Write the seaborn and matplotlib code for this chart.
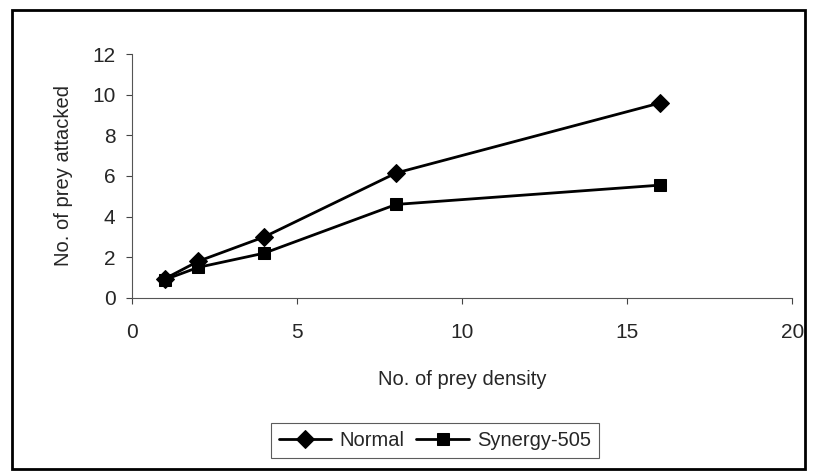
import matplotlib
matplotlib.use('Agg')
import matplotlib.pyplot as plt
from matplotlib.patches import Rectangle
import seaborn as sns

# values
density = [1, 2, 4, 8, 16]
normal = [0.95, 1.8, 3.0, 6.15, 9.6]
synergy = [0.9, 1.5, 2.2, 4.6, 5.55]

sns.set_theme(style='white')
plt.rcParams['font.family'] = ['Liberation Sans', 'DejaVu Sans']

fig = plt.figure(figsize=(8.16, 4.75), dpi=100)
ax = fig.add_axes([0.162, 0.373, 0.809, 0.513])

sns.lineplot(x=density, y=normal, ax=ax, color='black', marker='D',
             markersize=9, markeredgecolor='black', linewidth=2, label='Normal')
sns.lineplot(x=density, y=synergy, ax=ax, color='black', marker='s',
             markersize=9, markeredgecolor='black', linewidth=2, label='Synergy-505')

ax.set_xlim(0, 20)
ax.set_ylim(0, 12)
ax.set_xticks([0, 5, 10, 15, 20])
ax.set_yticks([0, 2, 4, 6, 8, 10, 12])
ax.tick_params(labelsize=15, length=4, width=0.8, color='#444444',
               direction='out', left=True, bottom=True)
ax.tick_params(axis='x', pad=14)
ax.tick_params(axis='y', pad=8)
for side in ['top', 'right']:
    ax.spines[side].set_visible(False)
for side in ['left', 'bottom']:
    ax.spines[side].set_color('#555555')
    ax.spines[side].set_linewidth(0.8)

ax.set_xlabel('No. of prey density', fontsize=14.5, labelpad=20)
ax.set_ylabel('No. of prey attacked', fontsize=14.5, labelpad=14)

ax.legend(loc='center', bbox_to_anchor=(0.533, 0.072),
          bbox_transform=fig.transFigure, ncol=2, fontsize=14.5,
          frameon=True, fancybox=False, edgecolor='#333333',
          handlelength=2.6, columnspacing=0.6, handletextpad=0.4,
          borderpad=0.4)
ax.get_legend().get_frame().set_linewidth(0.8)

# outer chart border
fig.patches.append(Rectangle((0.015, 0.012), 0.972, 0.968, transform=fig.transFigure,
                             fill=False, edgecolor='black', linewidth=2))

fig.savefig('out.png', dpi=100)
